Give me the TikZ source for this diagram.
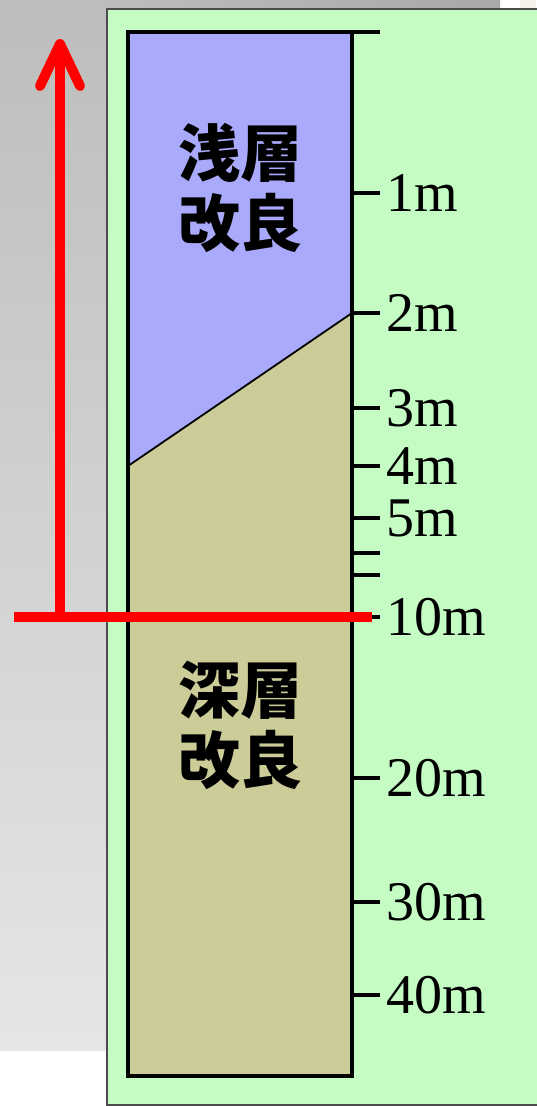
\documentclass[tikz,border=0pt]{standalone}
\usepackage{fontspec}
\setmainfont{Liberation Serif}
\newfontfamily\cjk{Noto Sans CJK JP}
\definecolor{panelgreen}{HTML}{C4FCC4}
\definecolor{shallowblue}{HTML}{AAAAFC}
\definecolor{deepkhaki}{HTML}{CCCC99}
\definecolor{redline}{HTML}{FF0000}
\begin{document}
\begin{tikzpicture}[x=1pt,y=-1pt,
  tick/.style={line width=4pt},
  depthlabel/.style={anchor=west,inner sep=0pt,font=\fontsize{56}{56}\selectfont},
  cjklabel/.style={align=center,inner sep=0pt,font=\cjk\bfseries\fontsize{62}{70}\selectfont},
  redstroke/.style={draw=redline,line width=10pt}]
\useasboundingbox (0,0) rectangle (536,1106);
% background
\fill[white] (0,0) rectangle (536,1106);
\shade[top color=black!26,bottom color=black!10] (0,0) rectangle (107,1050);
\shade[left color=black!26,right color=black!34] (107,0) rectangle (500,10);
\fill[black!15!brown!10] (520,0) rectangle (536,10);
% green panel
\filldraw[fill=panelgreen,draw=black!70,line width=1.5pt] (107,9) rectangle (540,1105);
% column
\coordinate (tl) at (128,32);
\coordinate (tr) at (352,32);
\coordinate (br) at (352,1076);
\coordinate (bl) at (128,1076);
\coordinate (dl) at (128,466);
\coordinate (dr) at (352,313);
\fill[shallowblue] (tl) -- (tr) -- (dr) -- (dl) -- cycle;
\fill[deepkhaki] (dl) -- (dr) -- (br) -- (bl) -- cycle;
\draw[line width=1.8pt] (dl) -- (dr);
\draw[line width=4.5pt,line join=miter] (tr) rectangle (bl);
\draw[tick] (tr) -- (380,32);
% ticks and labels
\foreach \name/\yy/\lab in {t1/193/1m,t2/313/2m,t3/408/3m,t4/466/4m,t5/518/5m,t10/617/10m,t20/778/20m,t30/902/30m,t40/995/40m}{
  \draw[tick] (352,\yy) -- (380,\yy);
  \node[depthlabel] (\name) at (386,\yy) {\lab};
}
\draw[tick] (352,553) -- (380,553);
\draw[tick] (352,575) -- (380,575);
% region labels
\node[cjklabel] (shallow) at (240,188) {浅層\\改良};
\node[cjklabel] (deep) at (240,725) {深層\\改良};
% red arrow
\coordinate (base) at (60,617);
\coordinate (tip) at (60,44);
\coordinate (hl) at (14,617);
\coordinate (hr) at (372,617);
\draw[redstroke] (hl) -- (hr);
\draw[redstroke] (base) -- (tip);
\draw[redstroke,line cap=round,line join=round] (40,86) -- (tip) -- (80,86);
\end{tikzpicture}
\end{document}
